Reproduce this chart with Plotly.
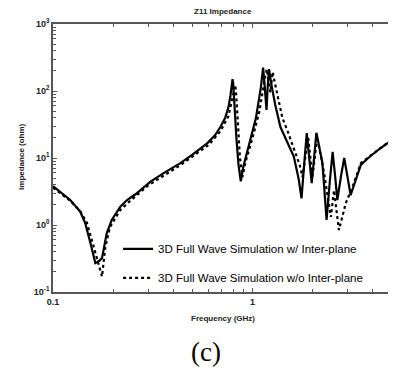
import plotly.graph_objects as go

# Frequency (GHz) and impedance (ohm) - with inter-plane
freq_with = [0.1, 0.11, 0.122, 0.137, 0.145, 0.154, 0.163, 0.17, 0.176, 0.186, 0.197, 0.217,
             0.235, 0.26, 0.307, 0.36, 0.435, 0.5, 0.594, 0.65, 0.69, 0.73, 0.757, 0.775,
             0.794, 0.80, 0.81, 0.83, 0.85, 0.873, 0.9, 0.96, 1.04, 1.1, 1.13, 1.15, 1.175,
             1.19, 1.21, 1.24, 1.30, 1.38, 1.46, 1.61, 1.7, 1.76, 1.82, 1.87, 1.93, 1.98,
             2.04, 2.09, 2.24, 2.3, 2.35, 2.44, 2.52, 2.6, 2.66, 2.78, 2.88, 3.0, 3.1,
             3.25, 3.49, 3.8, 4.3, 5.0]
z_with = [3.8, 3.0, 2.36, 1.58, 1.07, 0.54, 0.27, 0.29, 0.32, 0.76, 1.19, 1.86,
          2.36, 2.9, 4.4, 6.0, 8.4, 11.2, 16.7, 22.0, 29.0, 40.0, 57.0, 85.0,
          150.0, 130.0, 60.0, 20.0, 8.0, 4.5, 7.5, 15.6, 39.5, 111.0, 223.0, 120.0, 52.0,
          110.0, 212.0, 130.0, 62.0, 29.0, 20.0, 10.5, 5.0, 2.5, 9.0, 23.6, 9.0, 4.2,
          11.0, 23.8, 8.4, 3.0, 1.19, 4.5, 12.4, 5.0, 2.36, 5.5, 10.0, 5.0, 2.8,
          4.2, 7.9, 10.0, 13.5, 18.6]

# without inter-plane
freq_without = [0.1, 0.11, 0.122, 0.137, 0.148, 0.158, 0.169, 0.176, 0.183, 0.193, 0.217,
                0.24, 0.3, 0.36, 0.435, 0.5, 0.6, 0.69, 0.757, 0.79, 0.82, 0.83, 0.845,
                0.865, 0.89, 0.92, 1.0, 1.08, 1.16, 1.18, 1.2, 1.23, 1.26, 1.33, 1.41,
                1.5, 1.64, 1.72, 1.78, 1.84, 1.9, 1.95, 1.99, 2.05, 2.11, 2.27, 2.47,
                2.56, 2.71, 2.93, 3.17, 3.49, 4.25, 5.0]
z_without = [3.6, 2.9, 2.3, 1.6, 1.07, 0.54, 0.27, 0.17, 0.47, 0.93, 1.67,
             2.2, 3.9, 5.5, 7.8, 10.5, 15.5, 25.0, 42.0, 75.0, 123.0, 80.0, 30.0,
             10.0, 5.2, 8.5, 20.0, 48.0, 172.0, 212.0, 140.0, 96.0, 192.0, 90.0, 40.0,
             25.0, 12.3, 8.0, 5.2, 10.0, 20.6, 10.0, 5.0, 10.0, 20.6, 6.6, 1.32,
             3.3, 0.84, 2.1, 3.7, 8.4, 13.0, 19.0]

series_names = ["3D Full Wave Simulation w/ Inter-plane",
                "3D Full Wave Simulation w/o Inter-plane"]

x_tick_vals = [0.1, 1, 5]
x_tick_text = ["<b>0.1</b>", "<b>1</b>", "<b>5</b>"]
x_minor_vals = [0.2, 0.3, 0.4, 0.5, 0.6, 0.7, 0.8, 0.9, 2, 3, 4]
y_tick_vals = [0.1, 1, 10, 100, 1000]
y_tick_text = ["10<sup>-1</sup>", "10<sup>0</sup>", "10<sup>1</sup>", "10<sup>2</sup>", "10<sup>3</sup>"]
y_minor_vals = [m * d for d in [0.1, 1, 10, 100] for m in range(2, 10)]

fig = go.Figure()
fig.add_trace(go.Scatter(x=freq_with, y=z_with, mode="lines", name=series_names[0],
                         legendgroup="a",
                         line=dict(color="black", width=2.2)))
fig.add_trace(go.Scatter(x=freq_without, y=z_without, mode="lines", name=series_names[1],
                         legendgroup="b",
                         line=dict(color="black", width=2.2, dash="dot")))

axis_common = dict(showgrid=False, zeroline=False, showline=True, linecolor="#555",
                   linewidth=1.5, mirror="ticks", ticks="inside", ticklen=4,
                   tickcolor="#555", tickwidth=1, automargin=False,
                   tickfont=dict(family="Liberation Sans, Arial", size=9, color="#222"))

fig.update_xaxes(type="log", range=[-1, 0.69897], tickvals=x_tick_vals, ticktext=x_tick_text,
                 minor=dict(tickvals=x_minor_vals, ticks="inside", ticklen=3, tickcolor="#555"),
                 **axis_common)
fig.update_yaxes(type="log", range=[-1, 3], tickvals=y_tick_vals,
                 ticktext=["<b>" + t + "</b>" for t in y_tick_text],
                 minor=dict(tickvals=y_minor_vals, ticks="inside", ticklen=3, tickcolor="#555"),
                 **axis_common)

bold = dict(family="Liberation Sans, Arial", size=8, color="#222")
# page body has an 8px margin, so the figure is drawn 8px smaller and offset
fig.update_layout(
    width=388, height=362,
    margin=dict(l=45, r=4, t=16, b=78, autoexpand=False),
    paper_bgcolor="white", plot_bgcolor="white",
    showlegend=True,
    legend=dict(x=0.192, y=0.215, xanchor="left", yanchor="top",
                bgcolor="rgba(0,0,0,0)", tracegroupgap=10,
                font=dict(family="Liberation Sans, Arial", size=11.5, color="black")),
    annotations=[
        dict(text="<b>Z11 Impedance</b>", x=0.5, y=1.045, xref="paper", yref="paper",
             showarrow=False, font=bold, xanchor="center", yanchor="middle"),
        dict(text="<b>Frequency (GHz)</b>", x=0.5, y=-0.1007, xref="paper", yref="paper",
             showarrow=False, font=bold, xanchor="center", yanchor="middle"),
        dict(text="<b>Impedance (ohm)</b>", x=-0.0914, y=0.504, xref="paper", yref="paper",
             showarrow=False, font=bold, textangle=-90, xanchor="center", yanchor="middle"),
        dict(text="(c)", x=0.451, y=-0.224, xref="paper", yref="paper", showarrow=False,
             font=dict(family="Liberation Serif, Times New Roman", size=27, color="black"),
             xanchor="center", yanchor="middle"),
    ],
)

fig.write_html("out.html")
